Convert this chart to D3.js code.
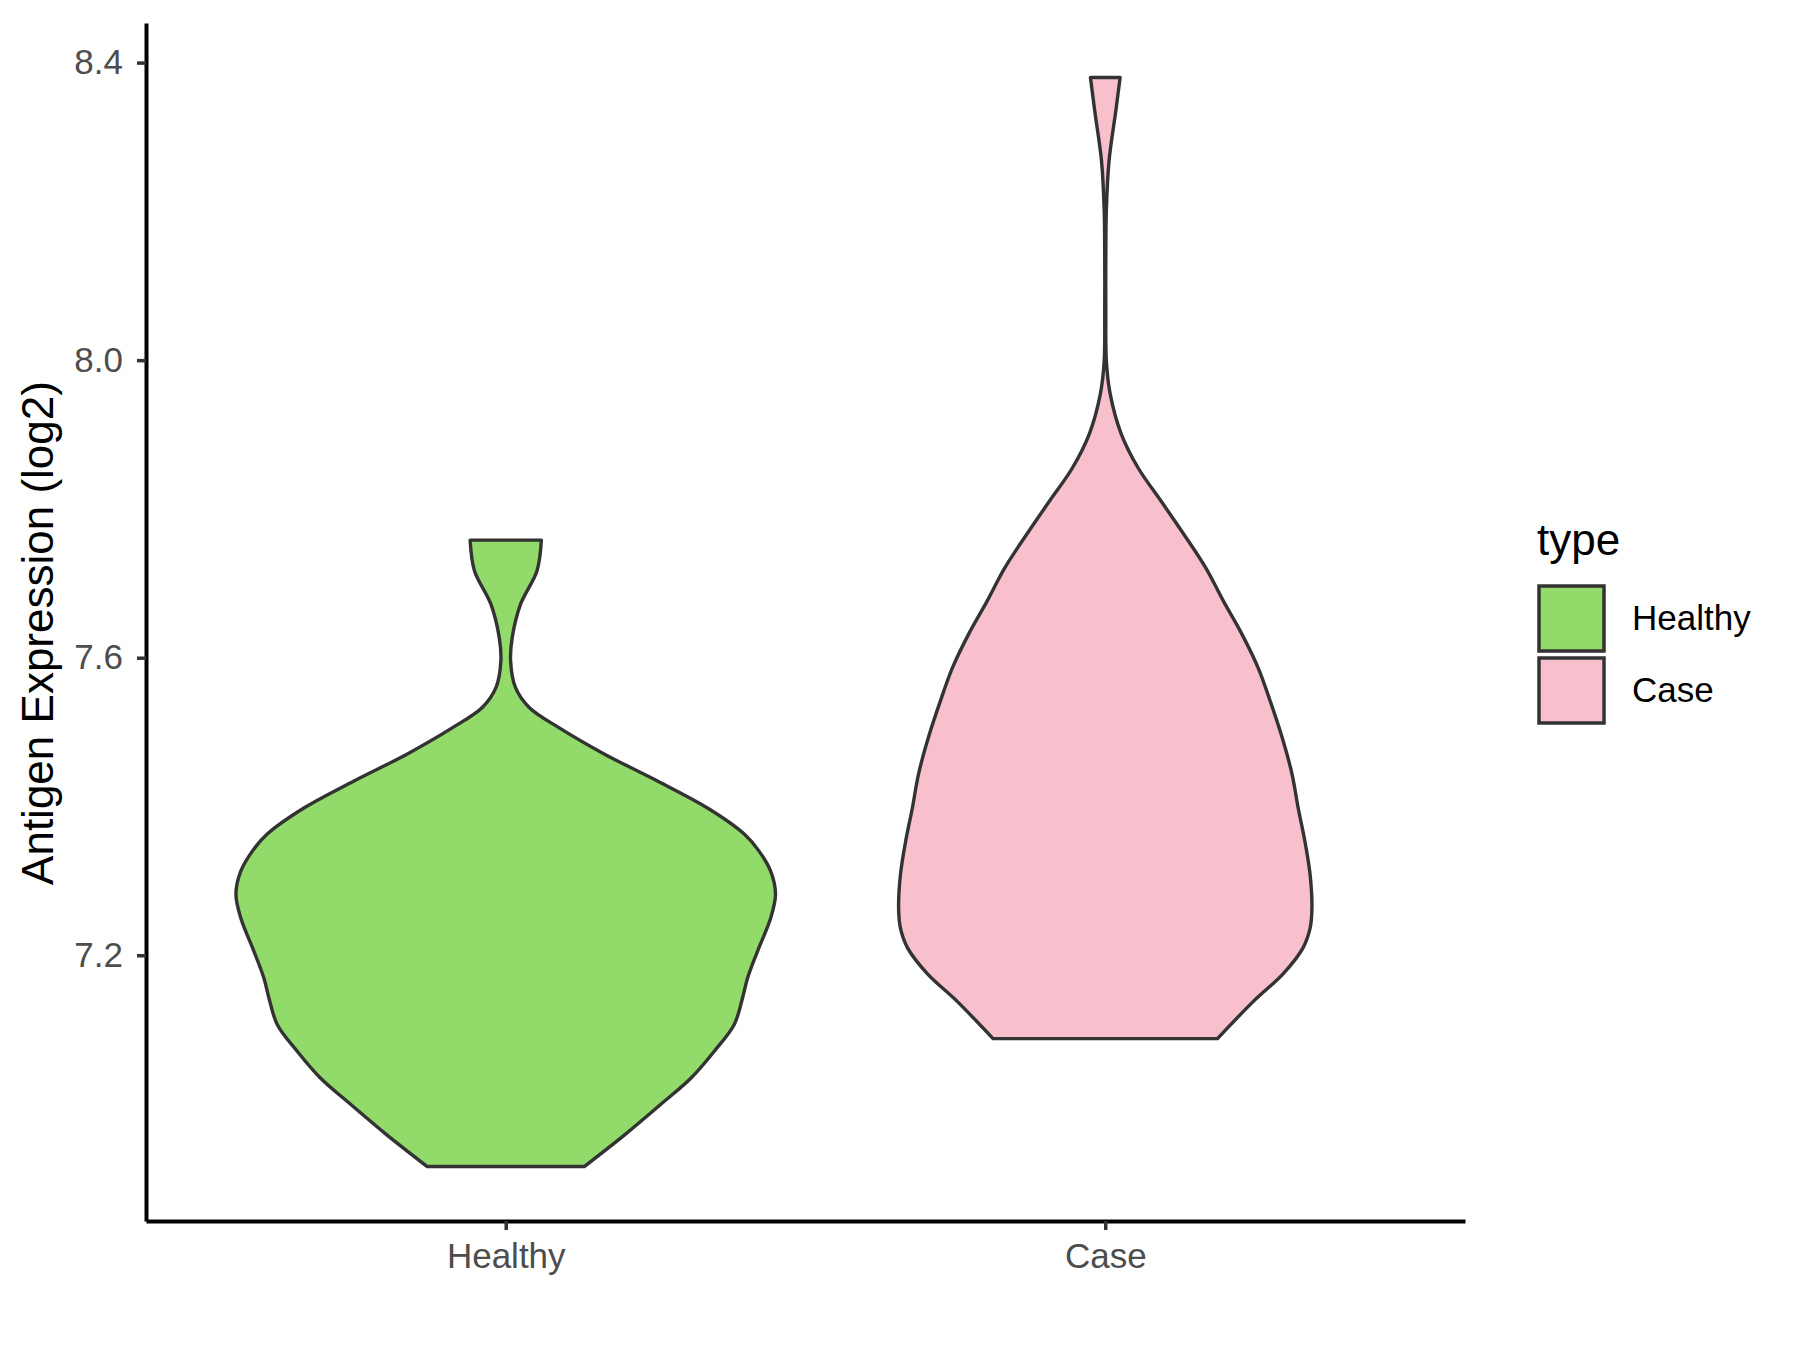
<!DOCTYPE html>
<html>
<head>
<meta charset="utf-8">
<script src="https://cdn.jsdelivr.net/npm/d3@7"></script>
<style>
  body { margin: 0; background: #fff; }
  text { font-family: 'Liberation Sans', Arial, sans-serif; }
</style>
</head>
<body>
<div id="graph"></div>
<script>
// groups on the x axis
const categories = ['Healthy', 'Case']

// violin outlines: expression value and relative density
const healthyValues = [6.916, 6.959, 7.000, 7.035, 7.071, 7.107, 7.143, 7.170, 7.206, 7.250, 7.282, 7.313, 7.340,
  7.363, 7.398, 7.434, 7.470, 7.506, 7.533, 7.560, 7.596, 7.627, 7.672, 7.717, 7.758]
const healthyDensity = [0.291, 0.442, 0.576, 0.687, 0.773, 0.847, 0.878, 0.897, 0.934, 0.982, 1.000, 0.982, 0.939,
  0.884, 0.748, 0.564, 0.368, 0.197, 0.087, 0.036, 0.018, 0.024, 0.055, 0.116, 0.132]

const caseValues = [7.088, 7.138, 7.175, 7.210, 7.236, 7.263, 7.309, 7.353, 7.398, 7.444, 7.497, 7.542, 7.586, 7.632,
  7.676, 7.721, 7.766, 7.811, 7.855, 7.901, 7.955, 7.999, 8.066, 8.134, 8.201, 8.268, 8.335, 8.380]
const caseDensity = [0.416, 0.549, 0.659, 0.733, 0.759, 0.766, 0.759, 0.740, 0.715, 0.692, 0.652, 0.611, 0.567, 0.506,
  0.438, 0.372, 0.291, 0.206, 0.122, 0.059, 0.018, 0.004, 0.002, 0.002, 0.004, 0.014, 0.039, 0.055]

const yTicks = [7.2, 7.6, 8.0, 8.4]

const width = 1800
const height = 1350
const panel = { left: 146, right: 1465, top: 23, bottom: 1221 }

const colors = { Healthy: '#92da6a', Case: '#f7c0cc' }
const outline = '#333333'

const svg = d3.select('#graph').append('svg')
  .attr('width', width)
  .attr('height', height)

svg.append('rect')
  .attr('width', width)
  .attr('height', height)
  .attr('fill', '#fff')

const groups = [
  { name: 'Healthy', pts: healthyValues.map((v, i) => ({ v, d: healthyDensity[i] })) },
  { name: 'Case', pts: caseValues.map((v, i) => ({ v, d: caseDensity[i] })) }
]

// Scales
const allValues = healthyValues.concat(caseValues)
const lo = d3.min(allValues)
const hi = d3.max(allValues)
const pad = (hi - lo) * 0.05

const yScale = d3.scaleLinear()
  .domain([lo - pad, hi + pad])
  .range([panel.bottom, panel.top])

const xScale = d3.scalePoint()
  .domain(categories)
  .range([panel.left, panel.right])
  .padding(0.6)

const maxDensity = d3.max(healthyDensity.concat(caseDensity))
const wScale = d3.scaleLinear()
  .domain([0, maxDensity])
  .range([0, xScale.step() * 0.45])

// Violins
groups.forEach((g) => {
  const cx = xScale(g.name)
  const area = d3.area()
    .y((p) => yScale(p.v))
    .x0((p) => cx - wScale(p.d))
    .x1((p) => cx + wScale(p.d))
    .curve(d3.curveCatmullRom.alpha(0.5))

  svg.append('path')
    .datum(g.pts)
    .attr('d', area)
    .attr('fill', colors[g.name])
    .attr('stroke', outline)
    .attr('stroke-width', 3.4)
    .attr('stroke-linejoin', 'round')
})

// Axes
const yAxis = svg.append('g')
  .attr('transform', `translate(${panel.left},0)`)
  .call(d3.axisLeft(yScale).tickValues(yTicks).tickFormat(d3.format('.1f'))
    .tickSize(9).tickSizeOuter(0).tickPadding(14))

const xAxis = svg.append('g')
  .attr('transform', `translate(0,${panel.bottom})`)
  .call(d3.axisBottom(xScale).tickSize(9).tickSizeOuter(0).tickPadding(13))

;[yAxis, xAxis].forEach((ax) => {
  ax.select('.domain').attr('stroke', '#000').attr('stroke-width', 4)
  ax.selectAll('.tick line').attr('stroke', '#333').attr('stroke-width', 3.5)
  ax.selectAll('.tick text')
    .attr('fill', '#4d4d4d')
    .style('font-size', '35px')
    .style('font-family', "'Liberation Sans', Arial, sans-serif")
})

// Axis title
svg.append('text')
  .attr('transform', `translate(53,${(panel.top + panel.bottom) / 2 + 11}) rotate(-90)`)
  .attr('text-anchor', 'middle')
  .attr('fill', '#000')
  .style('font-size', '44px')
  .text('Antigen Expression (log2)')

// Legend
const legend = svg.append('g').attr('transform', 'translate(1537,0)')

legend.append('text')
  .attr('x', 0)
  .attr('y', 555)
  .attr('fill', '#000')
  .style('font-size', '44px')
  .text('type')

const keys = legend.selectAll('g.key').data(categories).join('g')
  .attr('class', 'key')
  .attr('transform', (d, i) => `translate(0,${584 + i * 72})`)

keys.append('rect')
  .attr('x', 2)
  .attr('y', 2)
  .attr('width', 65)
  .attr('height', 65)
  .attr('fill', (d) => colors[d])
  .attr('stroke', outline)
  .attr('stroke-width', 3.5)

keys.append('text')
  .attr('x', 95)
  .attr('y', 46)
  .attr('fill', '#000')
  .style('font-size', '35px')
  .text((d) => d)
</script>
</body>
</html>
